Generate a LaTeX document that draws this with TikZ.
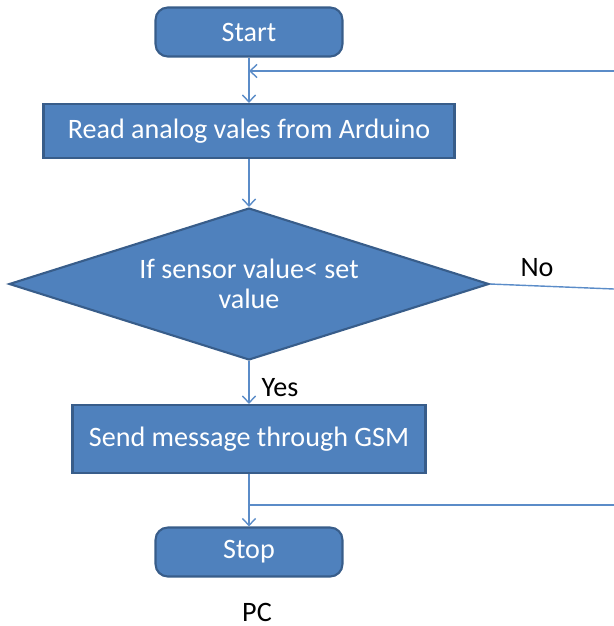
\documentclass[tikz,border=0pt]{standalone}
\usepackage{fontspec}
\setmainfont{Carlito}
\usetikzlibrary{shapes.geometric, arrows.meta}

\definecolor{boxfill}{HTML}{4F81BD}
\definecolor{boxline}{HTML}{385D8A}
\definecolor{flowline}{HTML}{5B8CC8}

\tikzset{
	stepbox/.style={draw=boxline, fill=boxfill, line width=1.2pt, text=white, inner sep=0pt},
	termbox/.style={stepbox, rounded corners=7pt, minimum width=3.74cm, minimum height=0.98cm},
	flow/.style={draw=flowline, line width=0.8pt},
	>={Straight Barb[length=4pt, width=7.5pt]}
}

\begin{document}
\begin{tikzpicture}[x=0.02cm, y=-0.02cm, font=\fontsize{16}{17}\selectfont]
	\useasboundingbox (0,0) rectangle (614,626);

	% boxes
	\node [termbox] (start) at (249, 32) {Start};
	\node [stepbox, minimum width=8.22cm, minimum height=1.08cm] (read) at (249, 131) {Read analog vales from Arduino};
	\node [stepbox, shape=diamond, minimum width=9.6cm, minimum height=3.04cm] (test) at (249, 284) {};
	\node [text=white, align=center] (testtext) at (test) {If sensor value< set\\value};
	\node [stepbox, minimum width=7.06cm, minimum height=1.36cm] (send) at (249, 439) {Send message through GSM};
	\node [termbox] (stop) at (249, 552) {Stop};
	\node (pc) at (257, 612) {PC};

	% main flow
	\draw [flow, ->] (start) -- (read);
	\draw [flow, ->] (read) -- (test);
	\draw [flow, ->] (test) -- (send);
	\node (yes) at (280, 388) {Yes};
	\draw [flow, ->] (send) -- (stop);

	% side lines
	\coordinate (loopin) at (614, 71);
	\draw [flow, ->] (loopin) -- (start.south |- loopin);

	\coordinate (noend) at (614, 289);
	\draw [flow] (test.east) -- (noend);
	\node (no) at (537, 268) {No};

	\coordinate (sendout) at (614, 505);
	\draw [flow] (sendout) -- (send.south |- sendout);
\end{tikzpicture}
\end{document}
